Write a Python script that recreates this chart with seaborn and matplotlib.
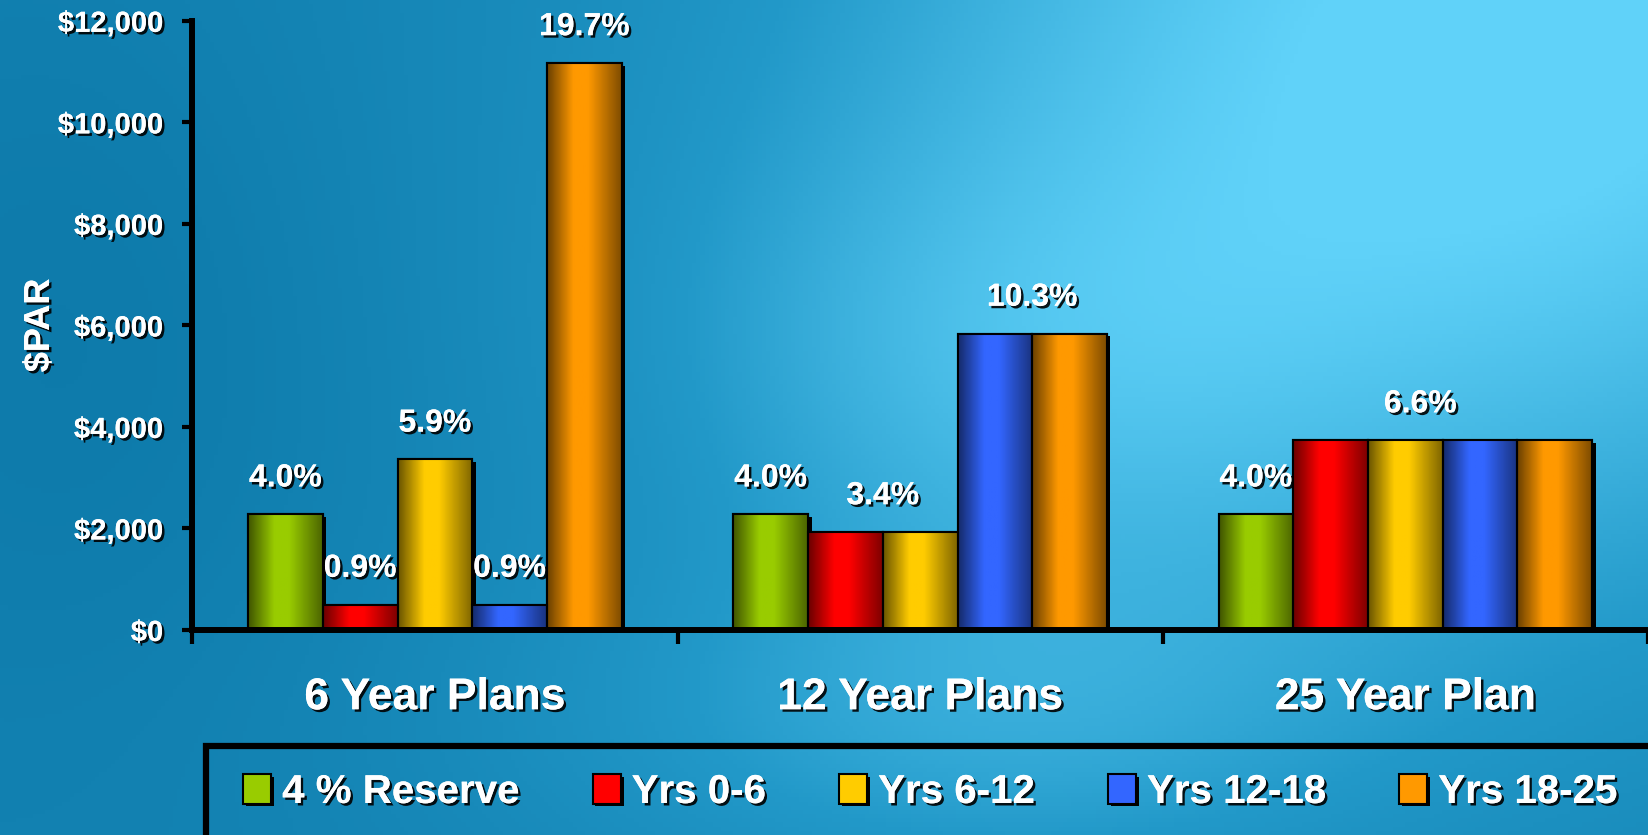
import numpy as np
import pandas as pd
import seaborn as sns
import matplotlib.pyplot as plt
import matplotlib.patheffects as pe
from matplotlib.colors import to_rgb, LinearSegmentedColormap
from matplotlib.patches import Rectangle
from matplotlib.ticker import FuncFormatter, FixedLocator

# data
plans = ["6 Year Plans", "12 Year Plans", "25 Year Plan"]
series = ["4 % Reserve", "Yrs 0-6", "Yrs 6-12", "Yrs 12-18", "Yrs 18-25"]
reserve_4pct = [2280, 2280, 2280]
yrs_0_6 = [500, 1930, 3740]
yrs_6_12 = [3360, 1930, 3740]
yrs_12_18 = [500, 5840, 3740]
yrs_18_25 = [11170, 5840, 3740]
colors = ["#99CC00", "#FF0000", "#FFCC00", "#3366FF", "#FF9900"]

# percentage labels: text, plan index, bar index it sits over (x.5 = between two bars)
pct_text = ["4.0%", "0.9%", "5.9%", "0.9%", "19.7%", "4.0%", "3.4%", "10.3%", "4.0%", "6.6%"]
pct_plan = [0, 0, 0, 0, 0, 1, 1, 1, 2, 2]
pct_bar = [0, 1, 2, 3, 4, 0, 1.5, 3.5, 0, 2.2]

yticks = [0, 2000, 4000, 6000, 8000, 10000, 12000]

values = [reserve_4pct, yrs_0_6, yrs_6_12, yrs_12_18, yrs_18_25]
df = pd.DataFrame({
    "plan": np.repeat([plans], len(series), axis=0).ravel(),
    "series": np.repeat(series, len(plans)),
    "par": np.concatenate(values),
})

sns.set_style("white")
plt.rcParams["font.family"] = ["Liberation Sans", "DejaVu Sans"]
plt.rcParams["font.weight"] = "bold"

shadow = [pe.withSimplePatchShadow(offset=(1.8, -1.8), shadow_rgbFace="black", alpha=0.9), pe.Normal()]

fig = plt.figure(figsize=(16.48, 8.35), dpi=100)

# background gradient
bg = fig.add_axes([0, 0, 1, 1], zorder=0)
gx, gy = np.meshgrid(np.linspace(0, 1, 400), np.linspace(0, 1, 200))
t = 0.15 + 0.9 * np.exp(-((gx - 0.92) ** 2 / 0.2 + (gy - 0.95) ** 2 / 0.5))
t += 0.35 * np.exp(-((gx - 0.58) ** 2 / 0.08 + (gy - 0.12) ** 2 / 0.05))
t += 0.3 * np.exp(-((gx - 0.6) ** 2 / 0.05 + (gy - 0.55) ** 2 / 0.08))
t -= 0.12 * np.exp(-((gx - 0.05) ** 2 / 0.03 + (gy - 0.6) ** 2 / 0.2))
t = np.clip(t, 0, 1)
bg_cmap = LinearSegmentedColormap.from_list("bg", ["#0c78a8", "#2299c9", "#60d2f9"])
bg.imshow(t, cmap=bg_cmap, origin="lower", extent=[0, 1, 0, 1], aspect="auto", vmin=0, vmax=1)
bg.set_xlim(0, 1)
bg.set_ylim(0, 1)
bg.axis("off")
# legend box
bg.add_patch(Rectangle((0.125, -0.05), 1.0, 0.157, fill=False, edgecolor="black",
                       linewidth=4.5, clip_on=False))

ax = fig.add_axes([0.1167, 0.2455, 0.8833, 0.7295], zorder=1)
ax.set_facecolor("none")
sns.barplot(data=df, x="plan", y="par", hue="series", palette=colors, width=0.77,
            gap=0, saturation=1, edgecolor="black", linewidth=1.5, ax=ax)

handles, labels = ax.get_legend_handles_labels()
ax.get_legend().remove()

# gradient fill + drop shadow on each bar
for container, col in zip(ax.containers, colors):
    base = np.array(to_rgb(col))
    u = np.linspace(0, 1, 64)
    f = np.interp(u, [0, 0.35, 0.55, 1], [0.42, 1.0, 1.0, 0.5])
    img = (base[None, :] * f[:, None])[None, :, :]
    for bar in container:
        bar.set_path_effects([pe.SimplePatchShadow(offset=(2.5, -2), shadow_rgbFace="black", alpha=1), pe.Normal()])
        x0, w, h = bar.get_x(), bar.get_width(), bar.get_height()
        im = ax.imshow(img, extent=[x0, x0 + w, 0, h], aspect="auto", zorder=bar.get_zorder() + 0.1)
        im.set_clip_path(bar)
        ax.add_patch(Rectangle((x0, 0), w, h, fill=False, edgecolor="black", linewidth=1.5,
                               zorder=bar.get_zorder() + 0.2))

ax.set_xlim(-0.5, 2.5)
ax.set_ylim(0, 12000)
ax.set_yticks(yticks)
ax.yaxis.set_major_formatter(FuncFormatter(lambda v, p: "\\$" + format(int(v), ",")))
ax.xaxis.set_minor_locator(FixedLocator([-0.5, 0.5, 1.5, 2.5]))

for side in ["top", "right"]:
    ax.spines[side].set_visible(False)
for side in ["left", "bottom"]:
    ax.spines[side].set_linewidth(4.3)
    ax.spines[side].set_color("black")
    ax.spines[side].set_zorder(5)

ax.tick_params(axis="y", direction="out", length=7, width=3, color="black", pad=14,
               labelsize=21, labelcolor="white", left=True)
ax.tick_params(axis="x", which="major", length=0, pad=34, labelsize=32, labelcolor="white")
ax.tick_params(axis="x", which="minor", direction="out", length=10, width=3, color="black", bottom=True)
for lab in ax.get_yticklabels() + ax.get_xticklabels():
    lab.set_fontweight("bold")
    lab.set_path_effects(shadow)

ax.set_xlabel("")
ax.set_ylabel("\\$PAR", fontsize=26, fontweight="bold", color="white", path_effects=shadow)
ax.yaxis.set_label_coords(-0.093, 0.5)

# percentage labels above bars
barw = 0.77 / len(series)
for txt, p, b in zip(pct_text, pct_plan, pct_bar):
    covered = [int(np.floor(b)), int(np.ceil(b))]
    top = max(values[i][p] for i in covered)
    xpos = p + (b - 2) * barw
    ax.annotate(txt, (xpos, top), xytext=(0, 15), textcoords="offset points",
                ha="center", va="bottom", fontsize=23, fontweight="bold", color="white",
                path_effects=shadow, zorder=6)

leg = fig.legend(handles, labels, loc="center left", bbox_to_anchor=(0.1475, 0.0515), ncol=5,
                 frameon=False, fontsize=29, handlelength=0.7, handleheight=0.75,
                 handletextpad=0.27, columnspacing=1.82, borderpad=0, borderaxespad=0)
for text in leg.get_texts():
    text.set_color("white")
    text.set_fontweight("bold")
    text.set_path_effects(shadow)
for h in leg.legend_handles:
    h.set_edgecolor("black")
    h.set_linewidth(1.5)
    h.set_path_effects([pe.SimplePatchShadow(offset=(2, -2), shadow_rgbFace="black", alpha=1), pe.Normal()])

plt.savefig("out.png", dpi=100)
